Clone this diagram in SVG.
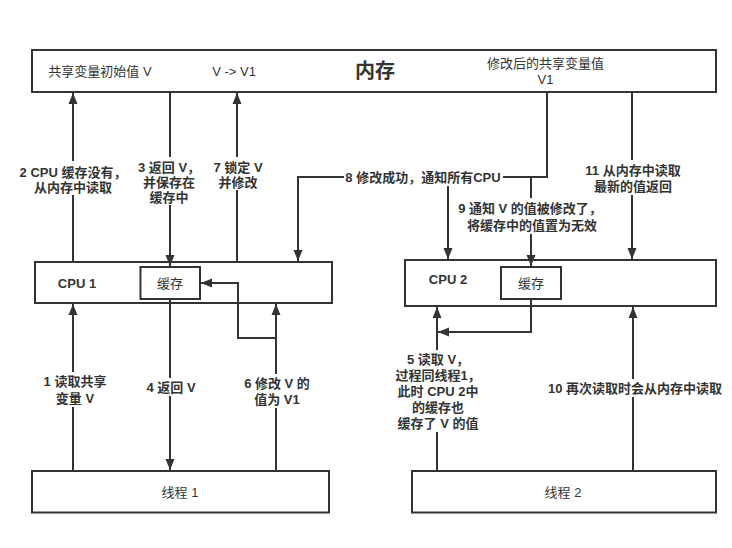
<svg xmlns="http://www.w3.org/2000/svg" width="732" height="548" viewBox="0 0 732 548">
<style>
  .box { fill: #ffffff; stroke: #333333; stroke-width: 2; }
  .t { font-family: "Liberation Sans", "Noto Sans CJK SC", sans-serif; fill: #333333; text-anchor: middle; dominant-baseline: central; font-size: 13px; }
  .lb { font-family: "Liberation Sans", "Noto Sans CJK SC", sans-serif; fill: #333333; text-anchor: middle; dominant-baseline: central; font-size: 13px; font-weight: bold; }
  .big { font-size: 20px; font-weight: bold; }
  .c { fill: none; stroke: #333333; stroke-width: 2; }
  .bg { fill: #ffffff; stroke: none; }
</style>
<defs>
  <marker id="ah" markerUnits="userSpaceOnUse" markerWidth="12" markerHeight="12" viewBox="0 0 12 12" refX="11" refY="6" orient="auto">
    <path d="M0,1.5 L11,6 L0,10.5 Z" fill="#333333"/>
  </marker>
</defs>
<rect width="732" height="548" fill="#ffffff"/>

<g id="memory">
  <rect class="box" x="32" y="50" width="684" height="42"/>
  <text class="t" x="100" y="71">共享变量初始值 V</text>
  <text class="t" x="234" y="71">V -&gt; V1</text>
  <text class="t big" x="375" y="71">内存</text>
  <text class="t" x="545.5" y="63">修改后的共享变量值<tspan x="545.5" dy="16">V1</tspan></text>
</g>
<g id="cpu1">
  <rect class="box" x="35" y="262" width="297" height="41"/>
  <text class="lb" x="77" y="283">CPU 1</text>
</g>
<g id="cache1">
  <rect class="box" x="140.5" y="267" width="59.5" height="32"/>
  <text class="t" x="170" y="283">缓存</text>
</g>
<g id="cpu2">
  <rect class="box" x="405" y="260" width="311" height="46"/>
  <text class="lb" x="448" y="279">CPU 2</text>
</g>
<g id="cache2">
  <rect class="box" x="501" y="267" width="60" height="32"/>
  <text class="t" x="531" y="283">缓存</text>
</g>
<g id="thread1">
  <rect class="box" x="32" y="471" width="297" height="41.5"/>
  <text class="t" x="180" y="492">线程 1</text>
</g>
<g id="thread2">
  <rect class="box" x="412" y="471" width="304" height="41.5"/>
  <text class="t" x="563" y="492">线程 2</text>
</g>

<g id="connectors">
  <path class="c" d="M73,470 L73,304" marker-end="url(#ah)"/>
  <path class="c" d="M73,262 L73,93" marker-end="url(#ah)"/>
  <path class="c" d="M170,92 L170,266" marker-end="url(#ah)"/>
  <path class="c" d="M170,299 L170,470" marker-end="url(#ah)"/>
  <path class="c" d="M276,470 L276,304" marker-end="url(#ah)"/>
  <path class="c" d="M276,338 L238,338 L238,283 L201,283" marker-end="url(#ah)"/>
  <path class="c" d="M237,262 L237,93" marker-end="url(#ah)"/>
  <path class="c" d="M547,92 L547,177 L298,177 L298,261" marker-end="url(#ah)"/>
  <path class="c" d="M448,177 L448,259" marker-end="url(#ah)"/>
  <path class="c" d="M531,177 L531,266" marker-end="url(#ah)"/>
  <path class="c" d="M632,92 L632,259" marker-end="url(#ah)"/>
  <path class="c" d="M437,470 L437,307" marker-end="url(#ah)"/>
  <path class="c" d="M531,299 L531,332 L438,332" marker-end="url(#ah)"/>
  <path class="c" d="M633,470 L633,307" marker-end="url(#ah)"/>

  <rect class="bg" x="21" y="161" width="105" height="34"/>
  <text class="lb" x="73" y="172">2 CPU 缓存没有，<tspan x="73" dy="15">从内存中读取</tspan></text>

  <rect class="bg" x="138" y="157" width="62" height="48"/>
  <text class="lb" x="169" y="167">3 返回 V，<tspan x="169" dy="15">并保存在</tspan><tspan x="169" dy="15">缓存中</tspan></text>

  <rect class="bg" x="210" y="157" width="56" height="33"/>
  <text class="lb" x="238" y="167">7 锁定 V<tspan x="238" dy="15">并修改</tspan></text>

  <rect class="bg" x="344" y="168" width="159" height="18"/>
  <text class="lb" x="423" y="177">8 修改成功，通知所有CPU</text>

  <rect class="bg" x="458" y="198" width="144" height="36"/>
  <text class="lb" x="530" y="208">9 通知 V 的值被修改了，<tspan x="532" dy="17">将缓存中的值置为无效</tspan></text>

  <rect class="bg" x="583" y="160" width="101" height="35"/>
  <text class="lb" x="633" y="170">11 从内存中读取<tspan x="633" dy="16">最新的值返回</tspan></text>

  <rect class="bg" x="42" y="372" width="66" height="35"/>
  <text class="lb" x="75" y="381">1 读取共享<tspan x="75" dy="17">变量 V</tspan></text>

  <rect class="bg" x="144" y="378" width="54" height="18"/>
  <text class="lb" x="171" y="387">4 返回 V</text>

  <rect class="bg" x="242" y="374" width="70" height="34"/>
  <text class="lb" x="277" y="383">6 修改 V 的<tspan x="277" dy="16">值为 V1</tspan></text>

  <rect class="bg" x="393" y="350" width="89" height="82"/>
  <text class="lb" x="438" y="359">5 读取 V，<tspan x="438" dy="16">过程同线程1，</tspan><tspan x="438" dy="16">此时 CPU 2中</tspan><tspan x="438" dy="16">的缓存也</tspan><tspan x="438" dy="16">缓存了 V 的值</tspan></text>

  <rect class="bg" x="545" y="379" width="180" height="18"/>
  <text class="lb" x="635" y="388">10 再次读取时会从内存中读取</text>
</g>
</svg>
